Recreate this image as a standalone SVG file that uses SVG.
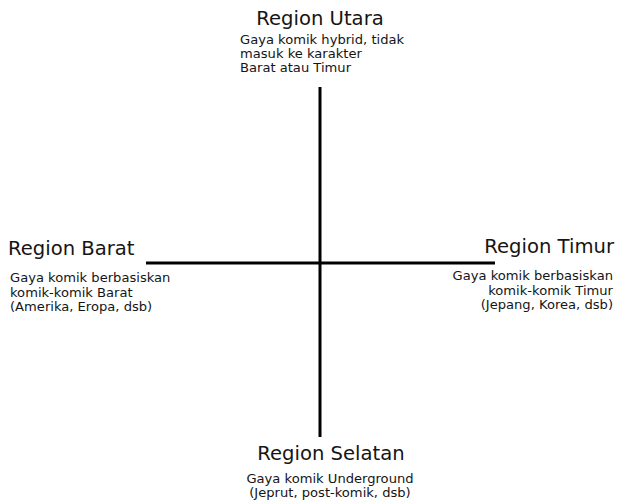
<svg xmlns="http://www.w3.org/2000/svg" width="618" height="502" viewBox="0 0 618 502">
  <style>
    .title { font-family: "DejaVu Sans", Verdana, sans-serif; font-size: 19.6px; fill: #151515; }
    .desc { font-family: "DejaVu Sans", Verdana, sans-serif; font-size: 13.1px; fill: #151515; }
    .axis { stroke: #000; stroke-width: 3; fill: none; }
  </style>
  <rect width="618" height="502" fill="#fff"/>
  <g id="connectors">
    <line class="axis" x1="320" y1="87" x2="320" y2="437"/>
    <line class="axis" x1="146" y1="263" x2="495" y2="263"/>
  </g>
  <g id="region-utara">
    <text class="title" x="320" y="25" text-anchor="middle">Region Utara</text>
    <text class="desc" x="240" y="44">Gaya komik hybrid, tidak</text>
    <text class="desc" x="240" y="58">masuk ke karakter</text>
    <text class="desc" x="240" y="72">Barat atau Timur</text>
  </g>
  <g id="region-barat">
    <text class="title" x="8" y="255">Region Barat</text>
    <text class="desc" x="10" y="282">Gaya komik berbasiskan</text>
    <text class="desc" x="10" y="296.5">komik-komik Barat</text>
    <text class="desc" x="10" y="311">(Amerika, Eropa, dsb)</text>
  </g>
  <g id="region-timur">
    <text class="title" x="614" y="253" text-anchor="end">Region Timur</text>
    <text class="desc" x="613" y="280" text-anchor="end">Gaya komik berbasiskan</text>
    <text class="desc" x="613" y="294.5" text-anchor="end">komik-komik Timur</text>
    <text class="desc" x="613" y="309" text-anchor="end">(Jepang, Korea, dsb)</text>
  </g>
  <g id="region-selatan">
    <text class="title" x="331" y="460" text-anchor="middle">Region Selatan</text>
    <text class="desc" x="330" y="483" text-anchor="middle">Gaya komik Underground</text>
    <text class="desc" x="330" y="497" text-anchor="middle">(Jeprut, post-komik, dsb)</text>
  </g>
</svg>
